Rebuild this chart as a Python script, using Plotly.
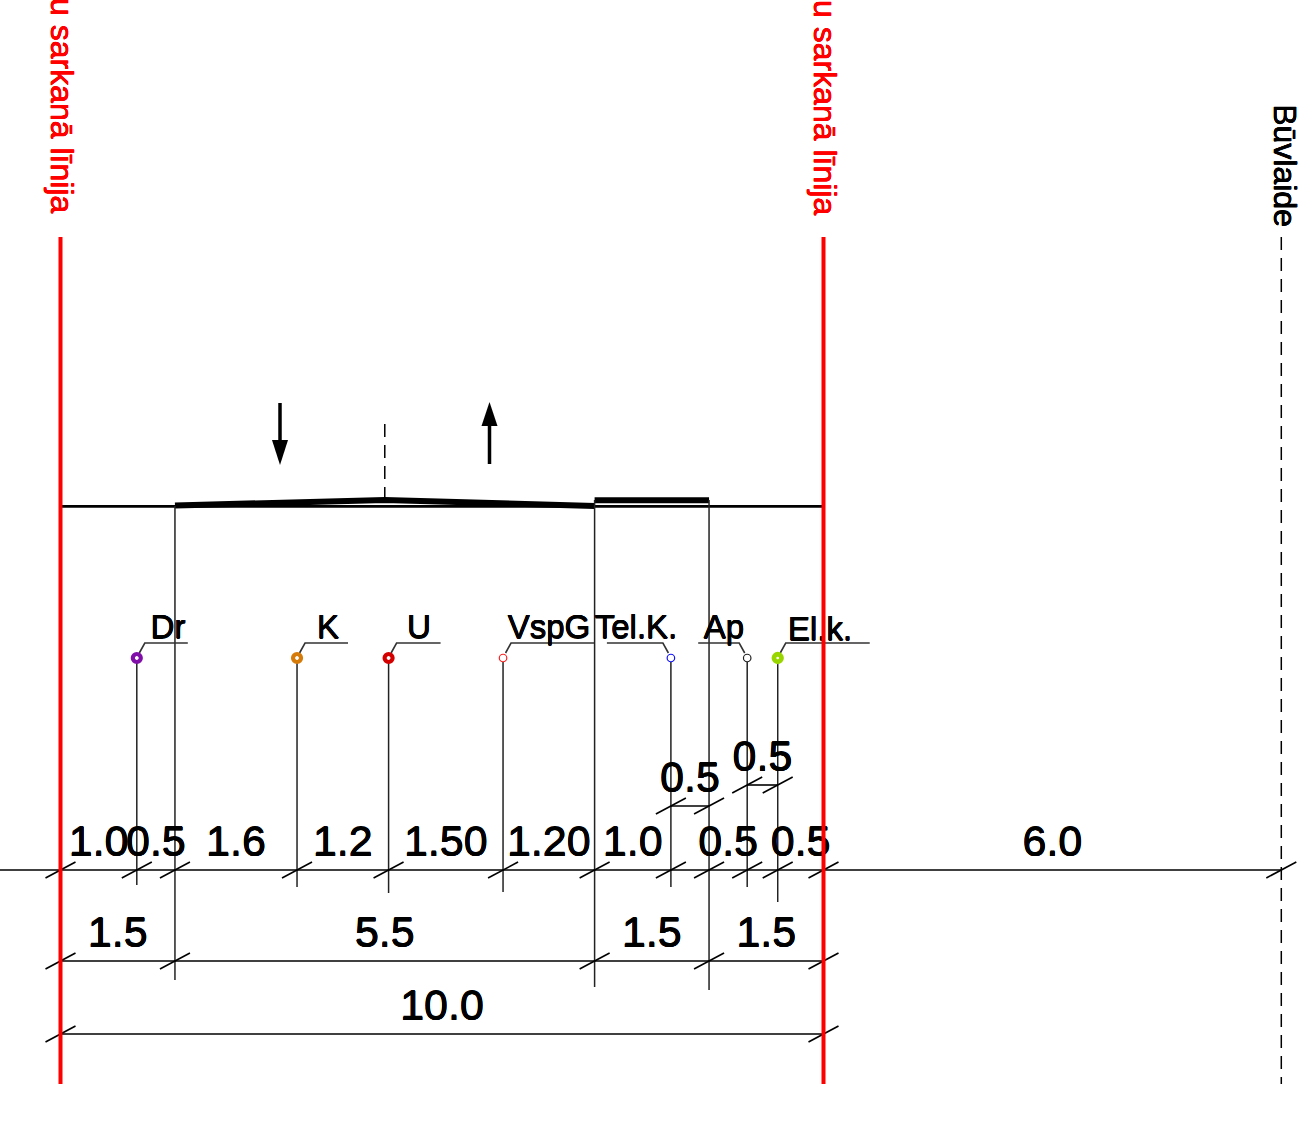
import numpy as np
import plotly.graph_objects as go

# ---- data (metres along the street cross-section) ----
tick_stations = [0, 1.0, 1.5, 3.1, 4.3, 5.8, 7.0, 8.0, 8.5, 9.0, 9.4, 10.0, 16.0]
main_labels = ["1.0", "0.5", "1.6", "1.2", "1.50", "1.20", "1.0", None, "0.5", None, "0.5", "6.0"]
upper_labels = [None, None, None, None, None, None, None, "0.5", None, "0.5", None, None]
zone_stations = [0, 1.5, 7.0, 8.5, 10.0]
zone_labels = ["1.5", "5.5", "1.5", "1.5"]
total_stations = [0, 10.0]
total_labels = ["10.0"]

util_names = ["Dr", "K", "U", "VspG", "Tel.K.", "Ap", "El.k."]
util_stations = [1.0, 3.1, 4.3, 5.8, 8.0, 9.0, 9.4]
util_colors = ["#7f0fa8", "#d67a0a", "#d40000", "#ff2020", "#1010ff", "#202020", "#99d600"]
util_ring = [4.2, 4.2, 4.2, 1.2, 1.2, 1.2, 4.8]
util_size = [8, 8, 8, 7.5, 7.5, 7.5, 7.5]
util_extension_end = [885, 887, 893, 892, 887, 887, 902]
util_leader_dir = [1, 1, 1, 1, -1, -1, 1]
util_leader_len = [43, 43, 44, 83, 56, 41, 84]
util_label_x = [168, 328, 419, 549, 636, 724, 820]
util_label_y = [630, 630, 630, 630, 630, 630, 632]

crown_station = 4.25
road_stations = [1.5, crown_station, 7.0]
road_levels = [505.5, 500.0, 506.0]
walk_stations = [7.0, 8.5]
walk_levels = [500.3, 500.3]

# ---- drawing frame ----
PX = 76.3
X0 = 60.5
W, H = 1303, 1124
FONT = "Liberation Sans"


def mx(px):
    return (px - X0) / PX


def heavy(color, a=0.3):
    return (f"{a}px 0 0 {color}, -{a}px 0 0 {color}, 0 {a}px 0 {color}, 0 -{a}px 0 {color}")


fig = go.Figure()


def line(x, y, width=1.6, color="#000000", dash=None):
    fig.add_trace(go.Scatter(x=x, y=y, mode="lines", hoverinfo="skip", showlegend=False,
                             line=dict(width=width, color=color, dash=dash)))


def label(x, y, text, size=43, color="#000000"):
    fig.add_trace(go.Scatter(x=[x], y=[y], mode="text", text=[text], textposition="middle center",
                             hoverinfo="skip", showlegend=False,
                             textfont=dict(family=FONT, size=size, color=color, shadow=heavy(color))))


def tick(s, y):
    d = 15 / PX
    line([s - d, s + d], [y + 8, y - 8], width=1.6)


def arrowhead(ax, ybase, ytip):
    fig.add_trace(go.Scatter(x=[ax - 8 / PX, ax + 8 / PX, ax, ax - 8 / PX], y=[ybase, ybase, ytip, ybase],
                             mode="lines", fill="toself", fillcolor="#000", line=dict(width=0, color="#000"),
                             hoverinfo="skip", showlegend=False))


# carriageway base and surfaces
line([0, 10], [506.3, 506.3], width=2.8)
line(road_stations, road_levels, width=6)
line(walk_stations, walk_levels, width=6)

# centre line, arrows
line([crown_station, crown_station], [424, 498], width=1.5, dash="13px,8px")
ax = mx(280)
line([ax, ax], [403, 442], width=3.5)
arrowhead(ax, 440, 465)
ax = mx(489.5)
line([ax, ax], [464, 424], width=3.5)
arrowhead(ax, 426, 402)

# extension lines
line([1.5, 1.5], [506, 980], width=1.5, color="#222222")
line([7.0, 7.0], [500, 987], width=1.5, color="#222222")
line([8.5, 8.5], [500, 990], width=1.5, color="#222222")
for s, end in zip(util_stations, util_extension_end):
    line([s, s], [662, end], width=1.5, color="#222222")

# dimension rows
line([mx(0), 16], [870, 870])
line([0, 10], [961, 961])
line([0, 10], [1034, 1034])
for s in tick_stations:
    tick(s, 870)
for s in zone_stations:
    tick(s, 961)
for s in total_stations:
    tick(s, 1034)
line([8.0, 8.5], [806, 806])
tick(8.0, 806)
tick(8.5, 806)
line([9.0, 9.4], [785, 785])
tick(9.0, 785)
tick(9.4, 785)

# dimension text
for i, t in enumerate(main_labels):
    if t:
        label((tick_stations[i] + tick_stations[i + 1]) / 2, 845, t)
upper_rows = {7: 781, 9: 760}
for i, t in enumerate(upper_labels):
    if t:
        label((tick_stations[i] + tick_stations[i + 1]) / 2, upper_rows[i], t)
for i, t in enumerate(zone_labels):
    label((zone_stations[i] + zone_stations[i + 1]) / 2, 936, t)
label((total_stations[0] + total_stations[1]) / 2, 1009, total_labels[0])

# utility leaders, rings and names
for s, d, ln in zip(util_stations, util_leader_dir, util_leader_len):
    line([s + d * 2.5 / PX, s + d * 8 / PX, s + d * (8 + ln) / PX], [653, 643, 643], width=1.6, color="#333333")
for s, c, r, sz in zip(util_stations, util_colors, util_ring, util_size):
    fig.add_trace(go.Scatter(x=[s], y=[658], mode="markers", hoverinfo="skip", showlegend=False,
                             marker=dict(size=sz, color="#ffffff", line=dict(width=r, color=c))))
for n, lx, ly in zip(util_names, util_label_x, util_label_y):
    label(mx(lx), ly, n, size=33)

# boundary lines on top
line([0, 0], [237, 1084], width=4, color="#ff0000")
line([10, 10], [237, 1084], width=4, color="#ff0000")
line([16, 16], [237, 1084], width=1.5, dash="13px,8px")

red_font = dict(family=FONT, size=32, color="#ff0000", shadow=heavy("#ff0000"))
fig.add_annotation(x=0.0, y=215, text="u sarkanā līnija", textangle=90, showarrow=False,
                   xanchor="center", yanchor="bottom", xshift=2, font=red_font)
fig.add_annotation(x=10.0, y=217, text="u sarkanā līnija", textangle=90, showarrow=False,
                   xanchor="center", yanchor="bottom", xshift=2, font=red_font)
fig.add_annotation(x=16.0, y=229, text="Būvlaide", textangle=90, showarrow=False,
                   xanchor="center", yanchor="bottom", xshift=4,
                   font=dict(family=FONT, size=32, color="#000000", shadow=heavy("#000000")))

fig.update_layout(width=W, height=H, margin=dict(l=0, r=0, t=0, b=0), showlegend=False,
                  paper_bgcolor="#ffffff", plot_bgcolor="#ffffff",
                  xaxis=dict(range=[mx(0), mx(W)], visible=False, fixedrange=True),
                  yaxis=dict(range=[H, 0], visible=False, fixedrange=True))
fig.write_html("out.html", config={"displayModeBar": False},
               post_script="document.body.style.margin='0';document.documentElement.style.overflow='hidden';")
